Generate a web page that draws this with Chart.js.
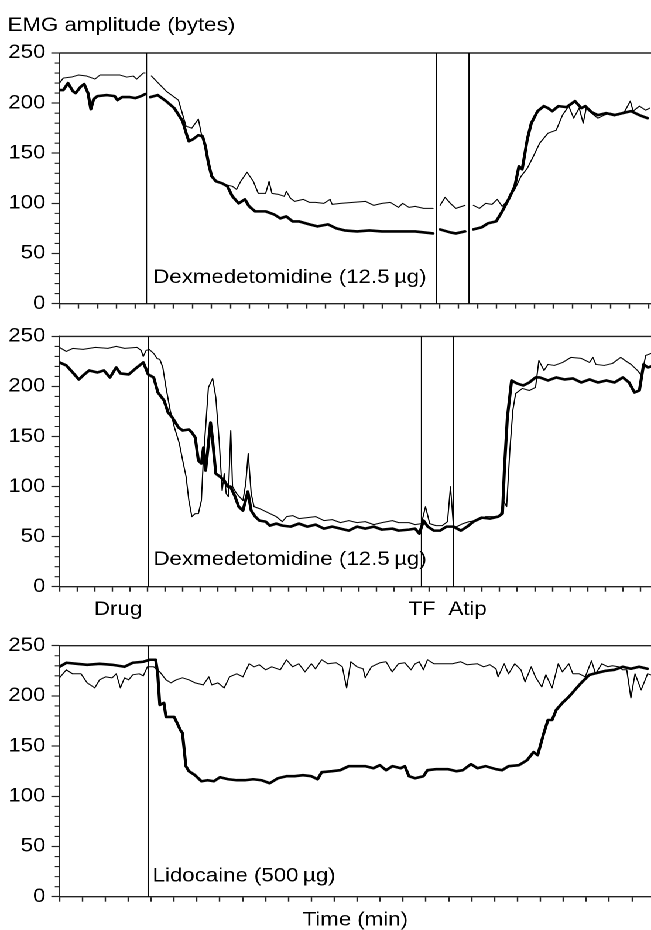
<!DOCTYPE html>
<html>
<head>
<meta charset="utf-8">
<script src="https://cdn.jsdelivr.net/npm/chart.js@4.4.1/dist/chart.umd.min.js"></script>
<style>
  html, body { margin: 0; padding: 0; background: #fff; overflow: hidden; }
  /* the figure's lettering is a bit wide, so the whole drawing is stretched sideways */
  #wrap { position: relative; width: 556px; height: 930px; transform: scaleX(1.1709); transform-origin: 0 0; }
  canvas { position: absolute; left: 0; }
</style>
</head>
<body>
<div id="wrap">
  <canvas id="c1" width="556" height="320" style="top:0px"></canvas>
  <canvas id="c2" width="556" height="300" style="top:320px"></canvas>
  <canvas id="c3" width="556" height="310" style="top:620px"></canvas>
</div>
<script>
// ---- data (time in tick units, EMG amplitude in bytes) ----
// panel 1: dexmedetomidine, thick + thin traces (null = gap in recording)
const dex1ThickT = [0,0.2,0.45,0.7,0.85,1.1,1.3,1.5,1.65,1.8,2.0,2.5,2.9,3.05,3.3,3.7,4.0,4.3,4.5,4.65,
  4.78,5.17,5.61,6.04,6.48,6.7,6.81,7.03,7.31,7.53,7.68,7.84,8.01,8.23,8.56,8.84,9.1,9.43,9.76,9.98,
  10.3,10.85,11.29,11.62,11.94,12.27,12.6,13.15,13.58,14.13,14.57,15.0,15.66,16.31,16.97,17.84,18.72,19.66,19.85,
  20.03,20.57,20.86,21.34,21.55,21.78,22.21,22.54,22.98,23.3,23.63,23.96,24.18,24.35,24.62,24.83,25.16,25.49,25.71,25.93,
  26.25,26.69,27.13,27.46,27.67,28.0,28.33,28.77,29.2,29.64,30.08,30.52,30.95];
const dex1ThickV = [213,213,220,212,210,216,219,210,194,204,207,208,207,203,206,206,205,207,209,null,
  206,208,202,195,182,168,162,164,168,167,157,140,127,122,120,117,107,100,104,97,
  92,92,89,85,87,82,82,79,77,79,75,73,72,73,72,72,72,70,null,
  74,71,70,72,null,74,76,80,82,92,104,117,137,134,164,180,192,197,195,192,
  197,196,202,195,197,191,188,190,188,190,192,188,185];
const dex1ThinT = [0,0.2,0.64,0.99,1.43,1.87,2.13,2.66,3.18,3.54,3.89,4.06,4.41,4.5,4.65,
  4.84,5.61,6.26,6.66,6.96,7.31,7.46,7.79,8.01,8.45,9.1,9.32,9.54,9.87,10.2,10.46,10.85,11.03,11.18,11.51,
  11.83,11.94,12.16,12.38,12.82,13.15,13.47,13.91,14.24,14.35,14.79,15.44,16.1,16.53,16.97,17.41,17.84,18.06,18.39,18.72,
  19.16,19.66,19.85,20.03,20.29,20.57,20.86,21.34,21.55,21.78,22.1,22.43,22.76,23.04,23.3,23.63,23.96,24.29,24.62,
  24.94,25.27,25.71,26.14,26.47,26.8,27.06,27.35,27.56,27.72,28.0,28.33,28.66,28.98,29.42,29.75,30.04,30.19,30.52,30.84,31.06];
const dex1ThinV = [220,225,226,228,227,224,228,228,228,226,227,224,230,230,null,
  227,212,203,177,175,184,170,147,127,120,117,114,122,131,122,110,110,122,110,109,
  107,112,105,102,104,101,101,100,104,99,100,101,102,98,100,101,96,100,96,97,
  95,95,null,98,106,100,95,98,null,98,95,100,99,104,97,104,114,127,135,
  147,160,170,173,188,197,185,195,180,195,190,185,188,190,188,192,202,192,197,193,195];

// panel 2: dexmedetomidine, then TF and atipamezole
const dex2ThickT = [0,0.39,0.75,1.1,1.34,1.69,2.16,2.52,2.87,3.22,3.46,3.93,4.4,4.76,4.88,5.04,5.35,5.59,5.94,6.17,
  6.41,6.76,7.0,7.35,7.52,7.71,7.89,8.06,8.18,8.3,8.42,8.58,8.7,8.88,9.12,9.36,9.55,9.71,9.95,10.18,
  10.42,10.7,10.89,11.12,11.36,11.71,11.95,12.31,12.66,13.13,13.6,14.08,14.55,15.02,15.49,15.96,16.43,16.9,17.37,17.85,
  18.32,18.91,19.26,19.85,20.2,20.44,20.68,20.92,21.27,21.62,21.98,22.38,22.8,23.16,23.51,23.98,24.45,24.92,25.16,25.28,
  25.44,25.68,25.98,26.34,26.69,27.04,27.28,27.75,28.22,28.7,29.17,29.64,30.11,30.58,31.06,31.53,32.0,32.35,32.66,32.94,
  33.18,33.42,33.6];
const dex2ThickV = [224,221,214,207,211,216,214,216,209,219,213,212,219,224,219,212,209,194,186,174,
  169,159,156,157,154,149,126,123,139,116,136,164,146,113,110,106,100,100,91,80,
  76,95,76,70,66,65,61,63,61,60,63,60,62,58,60,58,56,60,58,60,
  57,58,56,57,58,53,66,60,56,56,60,60,56,60,65,69,68,70,73,120,
  169,206,203,201,204,209,209,206,209,207,208,204,207,204,206,204,209,204,194,196,
  222,219,220];
const dex2ThinT = [0,0.39,0.75,1.34,2.04,2.75,3.22,3.7,4.4,4.64,4.76,4.92,5.1,5.35,5.54,5.7,5.87,6.05,6.29,6.53,
  6.81,7.0,7.19,7.35,7.52,7.71,7.89,8.06,8.18,8.3,8.46,8.7,8.88,9.07,9.24,9.36,9.47,9.59,9.73,9.83,
  10.06,10.42,10.58,10.72,10.89,11.05,11.36,11.6,11.95,12.31,12.66,12.9,13.25,13.6,14.08,14.55,15.02,15.49,15.96,16.43,
  16.9,17.37,17.85,18.32,18.91,19.26,19.85,20.2,20.56,20.79,21.03,21.38,21.74,22.04,22.21,22.38,22.56,22.92,23.27,23.75,
  24.22,24.69,25.04,25.21,25.4,25.58,25.75,25.91,26.29,26.69,27.04,27.23,27.52,27.75,28.11,28.58,29.05,29.64,30.11,30.3,
  30.47,30.94,31.41,31.88,32.12,32.47,32.83,33.06,33.3,33.6];
const dex2ThinV = [239,235,238,237,239,238,240,238,239,236,230,236,237,233,228,227,219,199,176,159,
  143,126,110,86,70,73,73,86,130,159,199,208,189,146,96,113,93,90,156,100,
  93,86,103,133,93,80,78,76,73,70,65,70,71,68,69,70,66,67,64,66,
  64,65,62,64,66,64,64,62,63,80,63,61,61,65,100,60,60,63,65,66,
  70,70,71,86,80,136,176,193,198,196,199,226,216,222,221,224,229,228,224,229,
  222,221,223,229,226,222,216,211,231,233];

// panel 3: lidocaine
const lidoThickT = [0,0.3,0.76,1.21,1.75,2.3,2.84,3.2,3.66,3.94,4.2,4.29,4.38,4.56,4.65,5.01,5.28,5.37,5.52,5.65,
  5.92,6.2,6.47,6.74,7.01,7.37,7.74,8.1,8.46,8.82,9.18,9.54,9.91,10.27,10.63,11.0,11.27,11.45,11.9,12.26,
  12.63,12.99,13.35,13.71,13.99,14.26,14.54,14.9,15.08,15.26,15.53,15.89,16.07,16.44,16.98,17.34,17.61,17.97,18.25,18.61,
  19.06,19.33,19.61,20.06,20.42,20.7,20.88,21.15,21.33,21.51,21.69,21.96,22.24,22.51,22.78,23.14,23.5,23.86,24.23,24.59,
  24.95,25.31,25.67];
const lidoThickV = [229,233,232,231,232,231,229,233,234,236,236,222,191,193,179,179,166,163,130,125,
  121,115,116,115,119,117,116,116,117,116,113,118,120,120,121,120,117,124,125,126,
  130,130,130,128,131,126,130,128,130,120,118,120,126,127,127,125,126,132,128,130,
  127,126,130,131,136,144,141,163,176,176,186,193,199,206,213,221,223,225,226,229,
  227,229,227];
const lidoThinT = [0,0.3,0.57,0.94,1.21,1.54,1.75,2.02,2.3,2.48,2.66,2.84,3.02,3.2,3.48,3.66,3.84,4.11,4.38,4.65,
  4.87,5.1,5.37,5.65,5.92,6.28,6.52,6.65,6.92,7.19,7.43,7.74,8.01,8.28,8.5,8.72,9.0,9.27,9.64,9.91,
  10.18,10.45,10.72,11.0,11.18,11.45,11.72,12.08,12.35,12.54,12.72,12.99,13.26,13.35,13.62,13.99,14.26,14.53,14.8,15.08,
  15.35,15.53,15.71,15.89,16.07,16.35,16.8,17.16,17.52,17.8,18.25,18.52,18.79,19.06,19.15,19.42,19.61,19.88,20.15,20.33,
  20.6,20.78,21.06,21.24,21.51,21.78,21.96,22.24,22.42,22.69,22.96,23.23,23.41,23.68,23.95,24.14,24.41,24.59,24.77,24.95,
  25.13,25.4,25.68,25.82];
const lidoThinV = [218,226,222,222,213,208,216,219,218,222,208,218,216,221,222,220,229,229,224,216,
  213,216,218,216,213,211,219,211,213,208,219,222,219,232,229,231,226,229,226,236,
  229,232,224,232,227,236,232,233,229,208,234,229,227,218,229,233,234,224,232,233,
  226,232,234,226,236,232,232,232,234,231,232,229,231,227,219,232,222,232,226,214,
  229,219,209,221,208,232,224,232,222,222,219,235,222,232,229,230,229,226,226,198,
  222,206,222,221];

// event markers (same time units)
const dex1Events = [4.58, 19.85, 21.55];
const dex2Events = [5.04, 20.56, 22.37];
const lidoEvents = [3.87];

const yTicks = [0, 50, 100, 150, 200, 250];
const yMinorTicks = [10,20,30,40,60,70,80,90,110,120,130,140,160,170,180,190,210,220,230,240];

// ---- drawing ----
const FONT_FAMILY = "'Liberation Sans', Arial, Helvetica, sans-serif";
const FONT = "19px " + FONT_FAMILY;
const AXIS_W = 50.8;

const decoPlugin = {
  id: 'deco',
  afterDraw(chart, args, opts) {
    const {ctx, chartArea: a, scales: {x, y}} = chart;
    ctx.save();
    ctx.strokeStyle = '#222';
    ctx.lineWidth = 1.4;
    ctx.beginPath();
    ctx.moveTo(a.left, a.top);
    ctx.lineTo(a.right, a.top);
    ctx.stroke();

    ctx.lineWidth = 1.1;
    ctx.beginPath();
    yMinorTicks.forEach(v => {
      const py = y.getPixelForValue(v);
      ctx.moveTo(a.left - 4, py);
      ctx.lineTo(a.left, py);
    });
    ctx.stroke();

    ctx.strokeStyle = '#000';
    ctx.lineWidth = 1;
    ctx.beginPath();
    opts.events.forEach(t => {
      const px = x.getPixelForValue(t);
      ctx.moveTo(px, a.top);
      ctx.lineTo(px, a.bottom);
    });
    ctx.stroke();

    ctx.fillStyle = '#000';
    ctx.font = FONT;
    ctx.textBaseline = 'alphabetic';
    (opts.texts || []).forEach(tx => {
      ctx.textAlign = tx.align || 'left';
      let px = tx.at != null ? x.getPixelForValue(tx.at) : (a.left + a.right) / 2;
      px += tx.dx || 0;
      const py = tx.value != null ? y.getPixelForValue(tx.value) : a.bottom + tx.below;
      ctx.fillText(tx.text, px, py);
    });
    if (opts.title) {
      ctx.textAlign = 'left';
      ctx.fillText(opts.title, 6.5, 31);
    }
    ctx.restore();
  }
};

function series(t, v, w) {
  return {
    data: t.map((tt, i) => ({x: tt, y: v[i]})),
    borderColor: '#000',
    borderWidth: w,
    pointRadius: 0,
    tension: 0,
    spanGaps: false,
    fill: false,
    borderJoinStyle: 'round',
    borderCapStyle: 'round'
  };
}

function panel(id, xMax, padTop, axisH, datasets, deco) {
  const xTicks = [];
  for (let i = 0; i <= Math.floor(xMax); i++) xTicks.push(i);
  return new Chart(document.getElementById(id), {
    type: 'line',
    data: {datasets: datasets},
    options: {
      responsive: false,
      animation: false,
      devicePixelRatio: 2,
      layout: {padding: {top: padTop, left: 0, right: 0, bottom: 0}},
      plugins: {legend: {display: false}, tooltip: {enabled: false}, deco: deco},
      scales: {
        x: {
          type: 'linear', min: 0, max: xMax,
          afterBuildTicks: s => { s.ticks = xTicks.map(v => ({value: v})); },
          ticks: {display: false},
          grid: {drawOnChartArea: false, tickLength: 5, tickColor: '#222', tickWidth: 1.2},
          border: {color: '#222', width: 1.4},
          afterFit: s => { s.height = axisH; }
        },
        y: {
          min: 0, max: 250,
          afterBuildTicks: s => { s.ticks = yTicks.map(v => ({value: v})); },
          ticks: {color: '#000', font: {family: FONT_FAMILY, size: 19}, padding: 5},
          grid: {drawOnChartArea: false, tickLength: 7, tickColor: '#222', tickWidth: 1.2},
          border: {color: '#222', width: 1.4},
          afterFit: s => { s.width = AXIS_W; }
        }
      }
    },
    plugins: [decoPlugin]
  });
}

const dexLabel = 'Dexmedetomidine (12.5\u2009\u00b5g)';

panel('c1', 31.13, 53, 16,
  [series(dex1ThickT, dex1ThickV, 2.6), series(dex1ThinT, dex1ThinV, 1)],
  {events: dex1Events, title: 'EMG amplitude (bytes)',
   texts: [{text: dexLabel, at: dex1Events[0], dx: 5.8, value: 20.7}]});

panel('c2', 33.6, 15.7, 33.3,
  [series(dex2ThickT, dex2ThickV, 2.6), series(dex2ThinT, dex2ThinV, 1)],
  {events: dex2Events,
   texts: [
     {text: dexLabel, at: dex2Events[0], dx: 4.5, value: 21.7},
     {text: 'Drug', at: dex2Events[0], dx: -5.2, below: 28.5, align: 'right'},
     {text: 'TF', at: dex2Events[1], dx: 0.6, below: 28.5, align: 'center'},
     {text: 'Atip', at: dex2Events[2], dx: -4.2, below: 28.5, align: 'left'}
   ]});

panel('c3', 25.83, 25.7, 33.3,
  [series(lidoThickT, lidoThickV, 2.6), series(lidoThinT, lidoThinV, 1)],
  {events: lidoEvents,
   texts: [
     {text: 'Lidocaine (500\u2009\u00b5g)', at: lidoEvents[0], dx: 3.8, value: 15},
     {text: 'Time (min)', at: null, dx: 0, below: 29, align: 'center'}
   ]});
</script>
</body>
</html>
